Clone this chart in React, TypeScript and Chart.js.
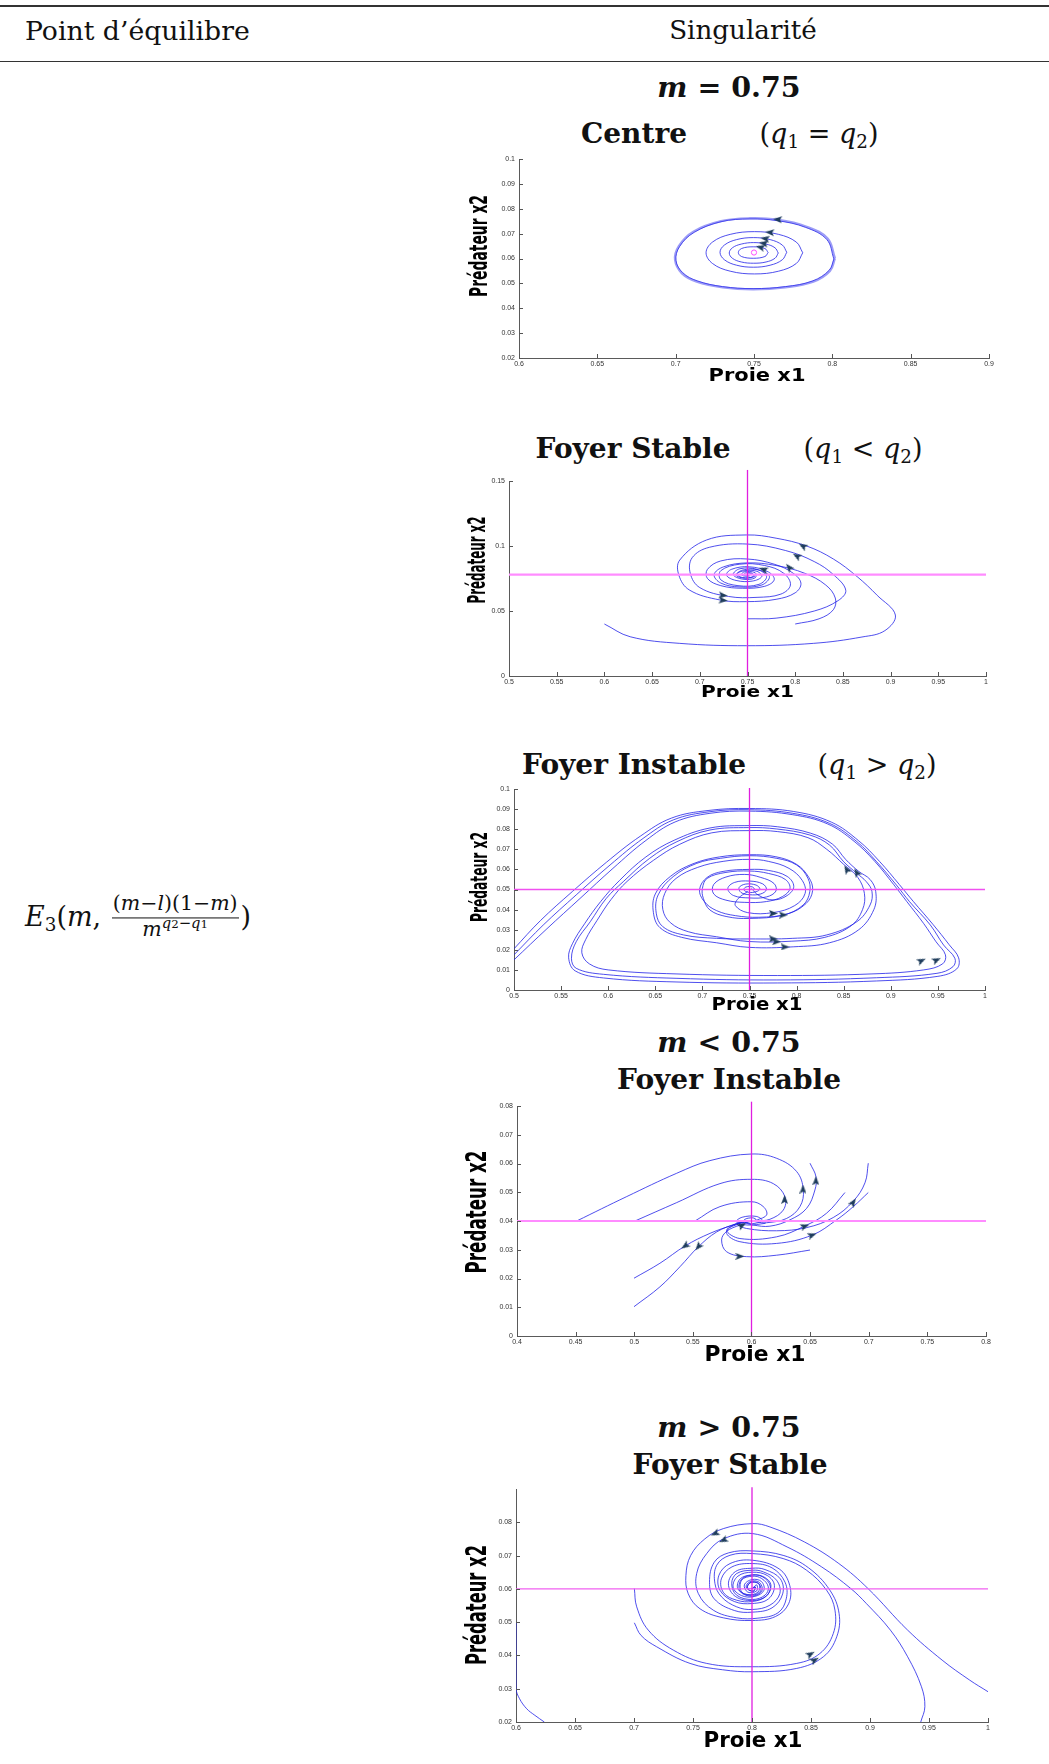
import React, { useEffect, useRef } from "react";
import { Chart, registerables } from "chart.js";

Chart.register(...registerables);

type Pt = [number, number];

/* ---------------- Plot 1 : m = 0.75, Centre (q1 = q2) ---------------- */
const p1Orbit1: Pt[] = [[0.8017,0.0601],[0.7970,0.0680],[0.7836,0.0728],[0.7650,0.0756],[0.7474,0.0762],[0.7290,0.0750],[0.7113,0.0708],[0.7020,0.0650],[0.6996,0.0594],[0.7040,0.0540],[0.7134,0.0507],[0.7300,0.0484],[0.7494,0.0476],[0.7700,0.0484],[0.7879,0.0507],[0.7985,0.0550],[0.8017,0.0601]];
const p1Orbit1b: Pt[] = [[0.8010,0.0598],[0.7965,0.0676],[0.7830,0.0725],[0.7650,0.0752],[0.7474,0.0759],[0.7290,0.0748],[0.7118,0.0705],[0.7025,0.0648],[0.7002,0.0592],[0.7045,0.0543],[0.7138,0.0510],[0.7300,0.0487],[0.7494,0.0479],[0.7700,0.0487],[0.7875,0.0510],[0.7980,0.0553],[0.8010,0.0598]];
const p1Orbit2: Pt[] = [[0.7811,0.0623],[0.7770,0.0666],[0.7657,0.0697],[0.7503,0.0708],[0.7348,0.0697],[0.7235,0.0666],[0.7194,0.0623],[0.7235,0.0580],[0.7348,0.0549],[0.7503,0.0538],[0.7657,0.0549],[0.7770,0.0580],[0.7811,0.0623]];
const p1Orbit3: Pt[] = [[0.7709,0.0625],[0.7681,0.0654],[0.7603,0.0676],[0.7496,0.0684],[0.7389,0.0676],[0.7311,0.0654],[0.7283,0.0625],[0.7311,0.0595],[0.7389,0.0573],[0.7496,0.0565],[0.7603,0.0573],[0.7681,0.0595],[0.7709,0.0625]];
const p1Orbit4: Pt[] = [[0.7655,0.0622],[0.7634,0.0643],[0.7577,0.0658],[0.7498,0.0664],[0.7419,0.0658],[0.7362,0.0643],[0.7342,0.0622],[0.7362,0.0601],[0.7419,0.0586],[0.7498,0.0581],[0.7577,0.0586],[0.7634,0.0601],[0.7655,0.0622]];
const p1Orbit5: Pt[] = [[0.7590,0.0624],[0.7570,0.0640],[0.7495,0.0647],[0.7420,0.0640],[0.7400,0.0624],[0.7420,0.0608],[0.7495,0.0601],[0.7570,0.0608],[0.7590,0.0624]];
const p1Centre: Pt[] = [[0.75, 0.0624]];
const p1ArrowPts: Pt[] = [[0.765,0.0757],[0.760,0.0705],[0.757,0.0680],[0.756,0.0661],[0.754,0.0645]];
const p1ArrowRot: number[] = [275, 275, 280, 280, 285];

/* ---------------- Plot 2 : Foyer stable (q1 < q2) ---------------- */
const p2VLine: Pt[] = [[0.75, 0], [0.75, 0.1585]];
const p2HLine: Pt[] = [[0.5, 0.078], [1.0, 0.078]];
const p2TrajA: Pt[] = [[0.600,0.0400],[0.627,0.0302],[0.679,0.0251],[0.749,0.0233],[0.819,0.0251],[0.870,0.0300],[0.894,0.0349],[0.905,0.0469],[0.886,0.0620],[0.865,0.0764],[0.840,0.0900],[0.812,0.1000],[0.780,0.1060],[0.749,0.1085],[0.707,0.1046],[0.679,0.0892],[0.678,0.0777],[0.689,0.0662],[0.721,0.0585],[0.749,0.0572],[0.780,0.0590],[0.800,0.0640],[0.806,0.0713],[0.798,0.0790],[0.778,0.0860],[0.750,0.0900],[0.722,0.0885],[0.708,0.0820],[0.708,0.0750],[0.722,0.0695],[0.745,0.0675],[0.768,0.0690],[0.778,0.0740],[0.772,0.0800],[0.752,0.0840],[0.733,0.0820],[0.728,0.0775],[0.738,0.0735],[0.755,0.0730],[0.765,0.0765],[0.760,0.0805],[0.747,0.0810],[0.739,0.0785],[0.745,0.0757],[0.756,0.0765],[0.755,0.0790],[0.748,0.0792],[0.746,0.0775],[0.751,0.0772],[0.750,0.0780]];
const p2TrajB: Pt[] = [[0.750,0.0440],[0.780,0.0445],[0.820,0.0500],[0.845,0.0580],[0.853,0.0660],[0.840,0.0780],[0.820,0.0880],[0.790,0.0965],[0.750,0.1015],[0.710,0.0990],[0.692,0.0910],[0.690,0.0790],[0.700,0.0680],[0.730,0.0612],[0.760,0.0605],[0.785,0.0630],[0.795,0.0700],[0.788,0.0790],[0.768,0.0850],[0.742,0.0860],[0.722,0.0810],[0.722,0.0740],[0.740,0.0695],[0.762,0.0705],[0.770,0.0765],[0.760,0.0820],[0.742,0.0825],[0.735,0.0780],[0.745,0.0745],[0.758,0.0755],[0.758,0.0795],[0.746,0.0800],[0.744,0.0775],[0.752,0.0770],[0.750,0.0780]];
const p2TrajC: Pt[] = [[0.800,0.0400],[0.825,0.0440],[0.840,0.0510],[0.842,0.0600],[0.832,0.0700],[0.810,0.0790],[0.780,0.0850],[0.750,0.0870],[0.725,0.0840],[0.715,0.0780],[0.722,0.0715],[0.742,0.0685],[0.765,0.0700],[0.773,0.0765],[0.762,0.0815],[0.745,0.0815],[0.738,0.0775],[0.748,0.0752],[0.758,0.0770],[0.752,0.0790],[0.750,0.0780]];
const p2ArrowPts: Pt[] = [[0.8079,0.1000],[0.8016,0.0923],[0.7935,0.0836],[0.7666,0.0820],[0.7246,0.0620],[0.7246,0.0582]];
const p2ArrowRot: number[] = [300, 300, 320, 290, 95, 95];

/* ---------------- Plot 3 : Foyer instable (q1 > q2) ---------------- */
const p3VLine: Pt[] = [[0.75, 0], [0.75, 0.1005]];
const p3HLine: Pt[] = [[0.5, 0.05], [1.0, 0.05]];
const p3Traj1: Pt[] = [[0.750,0.0500],[0.755,0.0502],[0.753,0.0513],[0.746,0.0512],[0.744,0.0498],[0.749,0.0486],[0.757,0.0489],[0.761,0.0503],[0.757,0.0522],[0.746,0.0527],[0.739,0.0510],[0.741,0.0485],[0.750,0.0474],[0.762,0.0478],[0.768,0.0500],[0.764,0.0528],[0.750,0.0542],[0.734,0.0535],[0.727,0.0505],[0.733,0.0470],[0.750,0.0458],[0.768,0.0463],[0.778,0.0492],[0.776,0.0530],[0.762,0.0560],[0.745,0.0575],[0.725,0.0562],[0.712,0.0525],[0.712,0.0478],[0.725,0.0447],[0.745,0.0436],[0.768,0.0440],[0.785,0.0465],[0.793,0.0505],[0.788,0.0550],[0.770,0.0580],[0.750,0.0592],[0.725,0.0585],[0.705,0.0555],[0.700,0.0505],[0.701,0.0456],[0.708,0.0398],[0.726,0.0365],[0.750,0.0356],[0.786,0.0373],[0.807,0.0423],[0.814,0.0489],[0.812,0.0556],[0.800,0.0622],[0.779,0.0655],[0.750,0.0668],[0.719,0.0655],[0.694,0.0630],[0.669,0.0564],[0.653,0.0473],[0.651,0.0382],[0.658,0.0315],[0.680,0.0274],[0.715,0.0257],[0.750,0.0254],[0.796,0.0257],[0.832,0.0274],[0.864,0.0340],[0.878,0.0423],[0.880,0.0490],[0.874,0.0539],[0.864,0.0580],[0.850,0.0638],[0.835,0.0721],[0.814,0.0771],[0.779,0.0801],[0.749,0.0808],[0.708,0.0796],[0.673,0.0738],[0.644,0.0655],[0.616,0.0539],[0.598,0.0456],[0.581,0.0340],[0.566,0.0240],[0.561,0.0158],[0.566,0.0108],[0.595,0.0078],[0.673,0.0058],[0.779,0.0050],[0.885,0.0061],[0.949,0.0083],[0.966,0.0116],[0.968,0.0158],[0.956,0.0224],[0.942,0.0323],[0.920,0.0439],[0.906,0.0522],[0.885,0.0638],[0.864,0.0738],[0.835,0.0829],[0.796,0.0879],[0.749,0.0897],[0.708,0.0887],[0.669,0.0846],[0.637,0.0754],[0.602,0.0622],[0.566,0.0473],[0.531,0.0323],[0.500,0.0175]];
const p3Traj2: Pt[] = [[0.748,0.0490],[0.738,0.0455],[0.735,0.0420],[0.748,0.0385],[0.775,0.0385],[0.798,0.0420],[0.809,0.0480],[0.806,0.0545],[0.792,0.0605],[0.770,0.0640],[0.750,0.0650],[0.722,0.0640],[0.695,0.0610],[0.672,0.0555],[0.660,0.0480],[0.658,0.0400],[0.666,0.0335],[0.685,0.0290],[0.715,0.0265],[0.750,0.0241],[0.795,0.0243],[0.830,0.0262],[0.858,0.0320],[0.870,0.0400],[0.872,0.0480],[0.865,0.0560],[0.850,0.0625],[0.832,0.0700],[0.812,0.0758],[0.780,0.0788],[0.750,0.0793],[0.710,0.0782],[0.676,0.0725],[0.648,0.0645],[0.620,0.0540],[0.603,0.0450],[0.588,0.0345],[0.576,0.0250],[0.572,0.0185],[0.580,0.0130],[0.600,0.0100],[0.672,0.0080],[0.780,0.0072],[0.880,0.0080],[0.935,0.0100],[0.955,0.0130],[0.958,0.0175],[0.948,0.0240],[0.935,0.0330],[0.917,0.0440],[0.903,0.0525],[0.883,0.0640],[0.861,0.0740],[0.833,0.0826],[0.796,0.0872],[0.750,0.0890],[0.708,0.0879],[0.671,0.0836],[0.640,0.0744],[0.605,0.0605],[0.570,0.0455],[0.535,0.0305],[0.500,0.0150]];
const p3Traj3: Pt[] = [[0.752,0.0505],[0.760,0.0470],[0.775,0.0448],[0.790,0.0470],[0.797,0.0515],[0.790,0.0565],[0.770,0.0595],[0.750,0.0600],[0.722,0.0590],[0.705,0.0560],[0.697,0.0500],[0.702,0.0440],[0.715,0.0395],[0.735,0.0370],[0.760,0.0362],[0.790,0.0378],[0.810,0.0430],[0.817,0.0495],[0.813,0.0560],[0.800,0.0625],[0.778,0.0663],[0.750,0.0673],[0.718,0.0662],[0.690,0.0628],[0.666,0.0565],[0.650,0.0478],[0.648,0.0385],[0.655,0.0310],[0.678,0.0262],[0.715,0.0235],[0.750,0.0212],[0.797,0.0215],[0.835,0.0235],[0.866,0.0300],[0.882,0.0400],[0.884,0.0490],[0.878,0.0550],[0.866,0.0590],[0.852,0.0650],[0.838,0.0726],[0.815,0.0780],[0.780,0.0812],[0.750,0.0818],[0.708,0.0806],[0.670,0.0745],[0.640,0.0662],[0.612,0.0545],[0.592,0.0440],[0.575,0.0330],[0.562,0.0230],[0.558,0.0160],[0.565,0.0095],[0.595,0.0060],[0.672,0.0040],[0.780,0.0035],[0.885,0.0045],[0.950,0.0068],[0.970,0.0105],[0.972,0.0160],[0.962,0.0225],[0.945,0.0325],[0.924,0.0440],[0.909,0.0525],[0.888,0.0640],[0.866,0.0742],[0.837,0.0835],[0.797,0.0888],[0.750,0.0903],[0.706,0.0893],[0.667,0.0855],[0.634,0.0765],[0.598,0.0635],[0.562,0.0490],[0.528,0.0345],[0.500,0.0205]];
const p3ArrowPts: Pt[] = [[0.7753,0.0381],[0.7859,0.0373],[0.7753,0.0254],[0.7788,0.0240],[0.7877,0.0214],[0.8531,0.0600],[0.8637,0.0585],[0.9327,0.0146],[0.9487,0.0149]];
const p3ArrowRot: number[] = [90, 90, 90, 90, 90, 330, 330, 65, 65];

/* ---------------- Plot 4 : m < 0.75, Foyer instable ---------------- */
const p4VLine: Pt[] = [[0.6, 0], [0.6, 0.0815]];
const p4HLine: Pt[] = [[0.4, 0.04], [0.8, 0.04]];
const p4Curve1: Pt[] = [[0.4509,0.0400],[0.4936,0.0485],[0.5362,0.0566],[0.5645,0.0610],[0.6000,0.0633],[0.6215,0.0618],[0.6385,0.0572],[0.6442,0.0508],[0.6413,0.0450],[0.6300,0.0409],[0.6129,0.0394],[0.6044,0.0397],[0.6000,0.0401]];
const p4Curve2: Pt[] = [[0.5006,0.0400],[0.5362,0.0464],[0.5731,0.0530],[0.6000,0.0545],[0.6186,0.0530],[0.6286,0.0484],[0.6271,0.0438],[0.6157,0.0406],[0.6040,0.0400]];
const p4Curve3: Pt[] = [[0.5518,0.0400],[0.5731,0.0450],[0.6000,0.0467],[0.6101,0.0450],[0.6129,0.0421],[0.6040,0.0402]];
const p4Curve4: Pt[] = [[0.6499,0.0601],[0.6550,0.0554],[0.6541,0.0508],[0.6470,0.0444],[0.6328,0.0404],[0.6157,0.0382],[0.6015,0.0386],[0.5950,0.0395],[0.6000,0.0401]];
const p4Curve5: Pt[] = [[0.6996,0.0601],[0.6968,0.0533],[0.6868,0.0469],[0.6697,0.0412],[0.6470,0.0377],[0.6214,0.0366],[0.5958,0.0374],[0.5880,0.0390],[0.5960,0.0402]];
const p4Curve6: Pt[] = [[0.6996,0.0499],[0.6868,0.0450],[0.6726,0.0404],[0.6518,0.0351],[0.6214,0.0322],[0.5901,0.0328],[0.5788,0.0357],[0.5845,0.0386],[0.5958,0.0398]];
const p4Curve7: Pt[] = [[0.6797,0.0499],[0.6640,0.0427],[0.6456,0.0383],[0.6214,0.0345],[0.5901,0.0339],[0.5788,0.0368],[0.5900,0.0392]];
const p4Curve8: Pt[] = [[0.6499,0.0299],[0.6214,0.0281],[0.5958,0.0276],[0.5788,0.0293],[0.5745,0.0334],[0.5788,0.0364],[0.5901,0.0386],[0.5990,0.0398]];
const p4Curve9: Pt[] = [[0.4998,0.0201],[0.5219,0.0253],[0.5433,0.0313],[0.5646,0.0357],[0.5845,0.0386],[0.5970,0.0398]];
const p4Curve10: Pt[] = [[0.4998,0.0102],[0.5219,0.0171],[0.5390,0.0241],[0.5546,0.0310],[0.5703,0.0362],[0.5873,0.0391],[0.5970,0.0399]];
const p4Core: Pt[] = [[0.600,0.0401],[0.604,0.0404],[0.601,0.0411],[0.594,0.0405],[0.595,0.0394],[0.603,0.0392],[0.609,0.0402],[0.604,0.0416],[0.592,0.0413],[0.587,0.0397],[0.597,0.0386],[0.612,0.0392]];
const p4ArrowPts: Pt[] = [[0.6282,0.0475],[0.6439,0.0511],[0.6549,0.0540],[0.6868,0.0465],[0.6456,0.0382],[0.6518,0.0351],[0.5901,0.0277],[0.5433,0.0313],[0.5546,0.0310],[0.5920,0.0385]];
const p4ArrowRot: number[] = [0, 0, 0, 35, 70, 70, 90, 235, 220, 60];

/* ---------------- Plot 5 : m > 0.75, Foyer stable ---------------- */
const p5VLine: Pt[] = [[0.8, 0.02], [0.8, 0.0905]];
const p5HLine: Pt[] = [[0.6, 0.06], [1.0, 0.06]];
const p5Spiral1: Pt[] = [[0.7003,0.0601],[0.7023,0.0546],[0.7121,0.0476],[0.7333,0.0416],[0.7616,0.0376],[0.8003,0.0366],[0.8379,0.0376],[0.8576,0.0406],[0.8689,0.0466],[0.8703,0.0536],[0.8632,0.0596],[0.8462,0.0656],[0.8264,0.0691],[0.8003,0.0706],[0.7814,0.0701],[0.7701,0.0671],[0.7686,0.0616],[0.7742,0.0576],[0.7870,0.0546],[0.8003,0.0538],[0.8152,0.0551],[0.8236,0.0586],[0.8208,0.0626],[0.8096,0.0651],[0.8003,0.0656],[0.7870,0.0646],[0.7828,0.0616],[0.7870,0.0581],[0.8003,0.0568],[0.8110,0.0581],[0.8138,0.0606],[0.8082,0.0631],[0.8003,0.0638],[0.7912,0.0626],[0.7912,0.0591],[0.8003,0.0581],[0.8074,0.0594],[0.8054,0.0616],[0.7983,0.0618],[0.7960,0.0601],[0.8012,0.0594],[0.8026,0.0606],[0.8003,0.0601]];
const p5Spiral2: Pt[] = [[0.7003,0.0498],[0.7060,0.0460],[0.7192,0.0426],[0.7475,0.0376],[0.7750,0.0357],[0.8003,0.0351],[0.8379,0.0361],[0.8605,0.0396],[0.8718,0.0456],[0.8738,0.0526],[0.8660,0.0596],[0.8480,0.0663],[0.8270,0.0700],[0.8003,0.0714],[0.7800,0.0708],[0.7680,0.0680],[0.7640,0.0620],[0.7680,0.0570],[0.7850,0.0535],[0.8003,0.0530],[0.8170,0.0543],[0.8260,0.0585],[0.8240,0.0630],[0.8110,0.0658],[0.8003,0.0662],[0.7860,0.0652],[0.7800,0.0615],[0.7860,0.0577],[0.8003,0.0565],[0.8120,0.0578],[0.8155,0.0608],[0.8090,0.0636],[0.7990,0.0641],[0.7905,0.0626],[0.7900,0.0592],[0.8003,0.0578],[0.8085,0.0595],[0.8060,0.0620],[0.7985,0.0622],[0.7950,0.0605],[0.8010,0.0592],[0.8030,0.0605],[0.8003,0.0601]];
const p5Spiral3: Pt[] = [[0.9430,0.0200],[0.9465,0.0246],[0.9436,0.0306],[0.9319,0.0396],[0.9173,0.0476],[0.8969,0.0556],[0.8837,0.0601],[0.8590,0.0666],[0.8297,0.0726],[0.8006,0.0766],[0.7757,0.0750],[0.7616,0.0706],[0.7531,0.0646],[0.7545,0.0586],[0.7672,0.0536],[0.7870,0.0513],[0.8050,0.0512],[0.8220,0.0528],[0.8290,0.0570],[0.8280,0.0620],[0.8170,0.0663],[0.8003,0.0676],[0.7830,0.0666],[0.7740,0.0630],[0.7760,0.0588],[0.7870,0.0566],[0.8003,0.0562],[0.8120,0.0578],[0.8160,0.0612],[0.8100,0.0636],[0.8003,0.0642],[0.7900,0.0630],[0.7880,0.0600],[0.7960,0.0583],[0.8050,0.0590],[0.8060,0.0615],[0.7990,0.0620],[0.7960,0.0603],[0.8003,0.0601]];
const p5Spiral4: Pt[] = [[1.0000,0.0291],[0.9844,0.0326],[0.9611,0.0386],[0.9319,0.0476],[0.8983,0.0601],[0.8736,0.0676],[0.8444,0.0741],[0.8152,0.0786],[0.8006,0.0796],[0.7757,0.0781],[0.7600,0.0750],[0.7480,0.0700],[0.7440,0.0640],[0.7460,0.0585],[0.7560,0.0540],[0.7757,0.0513],[0.8003,0.0505],[0.8200,0.0517],[0.8310,0.0555],[0.8320,0.0610],[0.8230,0.0660],[0.8003,0.0686],[0.7814,0.0676],[0.7720,0.0641],[0.7730,0.0595],[0.7850,0.0562],[0.8003,0.0556],[0.8140,0.0570],[0.8190,0.0610],[0.8130,0.0640],[0.8003,0.0650],[0.7880,0.0638],[0.7840,0.0605],[0.7910,0.0580],[0.8020,0.0577],[0.8100,0.0595],[0.8080,0.0622],[0.8000,0.0628],[0.7935,0.0612],[0.7965,0.0590],[0.8040,0.0594],[0.8040,0.0612],[0.8003,0.0601]];
const p5Corner: Pt[] = [[0.6000,0.0500],[0.6000,0.0400],[0.6000,0.0300],[0.6030,0.0270],[0.6090,0.0240],[0.6160,0.0220],[0.6240,0.0200]];
const p5ArrowPts: Pt[] = [[0.7686,0.0766],[0.7757,0.0746],[0.8497,0.0404],[0.8532,0.0386]];
const p5ArrowRot: number[] = [245, 245, 60, 60];

/* ---------------- axis titles ---------------- */
const xTitleText = "Proie x1";
const yTitleText = "Prédateur x2";

/* ---------------- rendering ---------------- */
const BLUE = "rgba(30,30,232,0.78)";
const ARROW = "#1f3d5c";
const MAGENTA = "#e01ee0";
const PINK = "#ff8cff";

const YW = 80;
const XH = 40;
const PT = 16;
const PR = 14;

interface RefLine { pts: Pt[]; color: string; width: number }
interface TitleBox { cx: number; cy: number; size: number; len: number }
interface Spec {
  id: string;
  area: { l: number; t: number; r: number; b: number };
  xMin: number; xMax: number; xStep: number;
  yMin: number; yMax: number; yStep: number; yLabelMax: number;
  xt: TitleBox; yt: TitleBox;
  curves: Pt[][];
  thick?: Pt[][];
  refs: RefLine[];
  arrows: Pt[]; arrowRot: number[];
  centre?: Pt[];
}

const fmt = (v: number | string) => {
  const n = typeof v === "number" ? v : parseFloat(v);
  return String(parseFloat(n.toFixed(4)));
};

const toXY = (pts: Pt[]) => pts.map(([x, y]) => ({ x, y }));

let arrowImg: HTMLCanvasElement | null = null;
function getArrowImg() {
  if (arrowImg) return arrowImg;
  const c = document.createElement("canvas");
  c.width = 7;
  c.height = 9;
  const g = c.getContext("2d")!;
  g.fillStyle = ARROW;
  g.beginPath();
  g.moveTo(3.5, 0);
  g.lineTo(7, 9);
  g.lineTo(3.5, 7);
  g.lineTo(0, 9);
  g.closePath();
  g.fill();
  arrowImg = c;
  return c;
}

const insideTicks = {
  id: "insideTicks",
  afterDraw(chart: any) {
    const { ctx, chartArea, scales } = chart;
    ctx.save();
    ctx.strokeStyle = "#555";
    ctx.lineWidth = 1;
    scales.x.ticks.forEach((t: any) => {
      if (t.label === "") return;
      const px = Math.round(scales.x.getPixelForValue(t.value)) + 0.5;
      ctx.beginPath();
      ctx.moveTo(px, chartArea.bottom);
      ctx.lineTo(px, chartArea.bottom - 4);
      ctx.stroke();
    });
    scales.y.ticks.forEach((t: any) => {
      if (t.label === "") return;
      const py = Math.round(scales.y.getPixelForValue(t.value)) + 0.5;
      ctx.beginPath();
      ctx.moveTo(chartArea.left, py);
      ctx.lineTo(chartArea.left + 4, py);
      ctx.stroke();
    });
    ctx.restore();
  },
};

function drawFitted(ctx: any, text: string, cx: number, cy: number, size: number, family: string, len: number, vertical: boolean) {
  ctx.save();
  ctx.translate(cx, cy);
  if (vertical) ctx.rotate(-Math.PI / 2);
  ctx.font = `bold ${size}px ${family}`;
  const w = ctx.measureText(text).width || len;
  ctx.scale(len / w, 1);
  ctx.fillStyle = "#000";
  ctx.textAlign = "center";
  ctx.textBaseline = "middle";
  ctx.fillText(text, 0, 0);
  ctx.restore();
}

// axis titles, placed and stretched to the size they have in the figure
const axisTitles = {
  id: "axisTitles",
  afterDraw(chart: any, _args: any, opts: any) {
    const { ctx } = chart;
    drawFitted(ctx, opts.xText, opts.x.cx, opts.x.cy, opts.x.size, '"DejaVu Sans", Verdana, sans-serif', opts.x.len, false);
    drawFitted(ctx, opts.yText, opts.y.cx, opts.y.cy, opts.y.size, '"Liberation Sans Narrow", "DejaVu Sans Condensed", Lato, sans-serif', opts.y.len, true);
  },
};

const tickFont = { family: '"Liberation Sans", Arial, sans-serif', size: 7 };

function makeConfig(s: Spec): any {
  const { l, t } = s.area;
  const canvasLeft = l - YW;
  const canvasTop = t - PT;
  const datasets: any[] = [];
  datasets.push({
    data: toXY(s.arrows),
    showLine: false,
    pointStyle: getArrowImg(),
    pointRadius: 4,
    pointRotation: s.arrowRot,
    backgroundColor: ARROW,
    borderColor: ARROW,
  });
  if (s.centre) {
    datasets.push({
      data: toXY(s.centre),
      showLine: false,
      pointStyle: "circle",
      pointRadius: 2.6,
      backgroundColor: "rgba(0,0,0,0)",
      borderColor: "#ff4cff",
      borderWidth: 1,
    });
  }
  s.refs.forEach((r) =>
    datasets.push({
      data: toXY(r.pts),
      showLine: true,
      borderColor: r.color,
      borderWidth: r.width,
      pointRadius: 0,
      tension: 0,
      clip: 20,
    })
  );
  (s.thick || []).forEach((c) =>
    datasets.push({
      data: toXY(c),
      showLine: true,
      borderColor: "rgba(60,60,240,0.5)",
      borderWidth: 2.2,
      pointRadius: 0,
      tension: 0.4,
    })
  );
  s.curves.forEach((c) =>
    datasets.push({
      data: toXY(c),
      showLine: true,
      borderColor: BLUE,
      borderWidth: 1,
      pointRadius: 0,
      tension: 0.38,
    })
  );
  return {
    type: "scatter",
    data: { datasets },
    plugins: [insideTicks, axisTitles],
    options: {
      animation: false,
      responsive: false,
      devicePixelRatio: 1,
      events: [],
      layout: { padding: { top: PT, right: PR, left: 0, bottom: 0 } },
      plugins: {
        legend: { display: false },
        tooltip: { enabled: false },
        title: { display: false },
        axisTitles: {
          xText: xTitleText,
          yText: yTitleText,
          x: { ...s.xt, cx: s.xt.cx - canvasLeft, cy: s.xt.cy - canvasTop },
          y: { ...s.yt, cx: s.yt.cx - canvasLeft, cy: s.yt.cy - canvasTop },
        },
      },
      scales: {
        x: {
          type: "linear",
          min: s.xMin,
          max: s.xMax,
          grid: { display: false, drawTicks: false },
          border: { display: true, color: "#5a5a5a", width: 1 },
          ticks: {
            stepSize: s.xStep,
            autoSkip: false,
            maxRotation: 0,
            padding: 2,
            font: tickFont,
            color: "#333",
            callback: (v: any) => fmt(v),
          },
          title: { display: false },
          afterFit: (sc: any) => {
            sc.height = XH;
          },
        },
        y: {
          type: "linear",
          min: s.yMin,
          max: s.yMax,
          grid: { display: false, drawTicks: false },
          border: { display: true, color: "#5a5a5a", width: 1 },
          ticks: {
            stepSize: s.yStep,
            autoSkip: false,
            padding: 4,
            font: tickFont,
            color: "#333",
            callback: (v: any) => (Number(v) > s.yLabelMax + 1e-9 ? "" : fmt(v)),
          },
          title: { display: false },
          afterFit: (sc: any) => {
            sc.width = YW;
          },
        },
      },
    },
  };
}

function PhasePlot({ spec }: { spec: Spec }) {
  const ref = useRef<HTMLCanvasElement | null>(null);
  const { l, t, r, b } = spec.area;
  const w = YW + (r - l) + PR;
  const h = PT + (b - t) + XH;
  useEffect(() => {
    if (!ref.current) return;
    const chart = new Chart(ref.current, makeConfig(spec));
    return () => chart.destroy();
  }, []);
  return (
    <canvas
      ref={ref}
      width={w}
      height={h}
      style={{ position: "absolute", left: l - YW, top: t - PT, width: w, height: h }}
    />
  );
}

const specs: Spec[] = [
  {
    id: "p1",
    area: { l: 519, t: 159, r: 989, b: 358 },
    xMin: 0.6, xMax: 0.9, xStep: 0.05, yMin: 0.02, yMax: 0.1, yStep: 0.01, yLabelMax: 0.1,
    xt: { cx: 757, cy: 376, size: 18.5, len: 97 },
    yt: { cx: 480, cy: 246, size: 25, len: 102 },
    curves: [p1Orbit2, p1Orbit3, p1Orbit4, p1Orbit5, p1Orbit1b],
    thick: [p1Orbit1],
    refs: [],
    arrows: p1ArrowPts, arrowRot: p1ArrowRot, centre: p1Centre,
  },
  {
    id: "p2",
    area: { l: 509, t: 481, r: 986, b: 676 },
    xMin: 0.5, xMax: 1, xStep: 0.05, yMin: 0, yMax: 0.15, yStep: 0.05, yLabelMax: 0.15,
    xt: { cx: 747.5, cy: 692.5, size: 16.5, len: 93 },
    yt: { cx: 478.5, cy: 560, size: 24, len: 87 },
    curves: [p2TrajA, p2TrajB, p2TrajC],
    refs: [
      { pts: p2VLine, color: MAGENTA, width: 1.3 },
      { pts: p2HLine, color: PINK, width: 2.2 },
    ],
    arrows: p2ArrowPts, arrowRot: p2ArrowRot,
  },
  {
    id: "p3",
    area: { l: 514, t: 789, r: 985, b: 990 },
    xMin: 0.5, xMax: 1, xStep: 0.05, yMin: 0, yMax: 0.1, yStep: 0.01, yLabelMax: 0.1,
    xt: { cx: 757, cy: 1006, size: 16.8, len: 91 },
    yt: { cx: 481, cy: 877, size: 23, len: 90 },
    curves: [p3Traj1, p3Traj2, p3Traj3],
    refs: [
      { pts: p3VLine, color: MAGENTA, width: 1.3 },
      { pts: p3HLine, color: "#f050f0", width: 1.3 },
    ],
    arrows: p3ArrowPts, arrowRot: p3ArrowRot,
  },
  {
    id: "p4",
    area: { l: 517, t: 1106, r: 986, b: 1336 },
    xMin: 0.4, xMax: 0.8, xStep: 0.05, yMin: 0, yMax: 0.08, yStep: 0.01, yLabelMax: 0.08,
    xt: { cx: 755, cy: 1356, size: 21, len: 101 },
    yt: { cx: 479, cy: 1212, size: 27.5, len: 123 },
    curves: [p4Curve1, p4Curve2, p4Curve3, p4Curve4, p4Curve5, p4Curve6, p4Curve7, p4Curve8, p4Curve9, p4Curve10, p4Core],
    refs: [
      { pts: p4VLine, color: MAGENTA, width: 1.3 },
      { pts: p4HLine, color: PINK, width: 2.2 },
    ],
    arrows: p4ArrowPts, arrowRot: p4ArrowRot,
  },
  {
    id: "p5",
    area: { l: 516, t: 1489, r: 988, b: 1722 },
    xMin: 0.6, xMax: 1, xStep: 0.05, yMin: 0.02, yMax: 0.09, yStep: 0.01, yLabelMax: 0.08,
    xt: { cx: 753, cy: 1742, size: 20.5, len: 99 },
    yt: { cx: 479, cy: 1605, size: 27.5, len: 120 },
    curves: [p5Spiral1, p5Spiral2, p5Spiral3, p5Spiral4, p5Corner],
    refs: [
      { pts: p5VLine, color: MAGENTA, width: 1.3 },
      { pts: p5HLine, color: "#f060f0", width: 1.4 },
    ],
    arrows: p5ArrowPts, arrowRot: p5ArrowRot,
  },
];

const SERIF = '"DejaVu Serif", "Liberation Serif", serif';

function T(props: {
  x: number; y: number; size?: number; bold?: boolean; align?: "left" | "center"; children: React.ReactNode;
}) {
  const { x, y, size = 26, bold = false, align = "center", children } = props;
  return (
    <div
      style={{
        position: "absolute",
        left: x,
        top: y,
        transform: align === "center" ? "translate(-50%, -50%)" : "translate(0, -50%)",
        fontFamily: SERIF,
        fontSize: size,
        fontWeight: bold ? 700 : 400,
        lineHeight: 1.2,
        whiteSpace: "nowrap",
        color: "#111",
      }}
    >
      {children}
    </div>
  );
}

const sub = (s: string) => (
  <span style={{ fontSize: "0.68em", position: "relative", top: "0.28em" }}>{s}</span>
);

function Cond({ x, y, op, one, two }: { x: number; y: number; op: string; one: string; two: string }) {
  return (
    <T x={x} y={y} size={27}>
      (<i>q</i>{sub(one)} {op} <i>q</i>{sub(two)})
    </T>
  );
}

function MTitle({ y, op }: { y: number; op: string }) {
  return (
    <T x={729} y={y} size={28.5} bold>
      <i>m</i> {op} 0.75
    </T>
  );
}

export default function App() {
  return (
    <div
      style={{
        position: "absolute",
        left: 0,
        top: 0,
        width: 1049,
        height: 1764,
        overflow: "hidden",
        background: "#fff",
      }}
    >
      <div style={{ position: "absolute", left: 0, top: 5, width: 1049, height: 1.5, background: "#333" }} />
      <div style={{ position: "absolute", left: 0, top: 61, width: 1049, height: 1, background: "#333" }} />
      <T x={25} y={31} size={26.7} align="left">Point d’équilibre</T>
      <T x={743} y={31} size={26.2}>Singularité</T>

      <MTitle y={87} op="=" />
      <T x={634} y={134} size={28} bold>Centre</T>
      <Cond x={819} y={134} op="=" one="1" two="2" />

      <T x={633} y={449} size={28} bold>Foyer Stable</T>
      <Cond x={863} y={449} op="<" one="1" two="2" />

      <T x={634} y={765} size={28} bold>Foyer Instable</T>
      <Cond x={877} y={765} op=">" one="1" two="2" />

      <MTitle y={1042} op="<" />
      <T x={729} y={1080} size={28} bold>Foyer Instable</T>

      <MTitle y={1427} op=">" />
      <T x={730} y={1465} size={28} bold>Foyer Stable</T>

      <div
        style={{
          position: "absolute",
          left: 25,
          top: 917,
          transform: "translateY(-50%)",
          fontFamily: SERIF,
          fontSize: 27,
          display: "flex",
          alignItems: "center",
          whiteSpace: "nowrap",
          color: "#111",
        }}
      >
        <span>
          <i>E</i>
          {sub("3")}(<i>m</i>,&nbsp;
        </span>
        <span
          style={{
            display: "inline-flex",
            flexDirection: "column",
            alignItems: "center",
            fontSize: 20.5,
            margin: "0 2px",
            lineHeight: 1.15,
          }}
        >
          <span style={{ borderBottom: "1px solid #111", padding: "0 1px 1px" }}>
            (<i>m</i>−<i>l</i>)(1−<i>m</i>)
          </span>
          <span>
            <i>m</i>
            <span style={{ fontSize: "0.72em", position: "relative", top: "-0.5em" }}>
              <i>q</i>
              <span style={{ fontSize: "0.8em" }}>2</span>−<i>q</i>
              <span style={{ fontSize: "0.8em" }}>1</span>
            </span>
          </span>
        </span>
        <span>)</span>
      </div>

      {specs.map((s) => (
        <PhasePlot key={s.id} spec={s} />
      ))}
    </div>
  );
}
